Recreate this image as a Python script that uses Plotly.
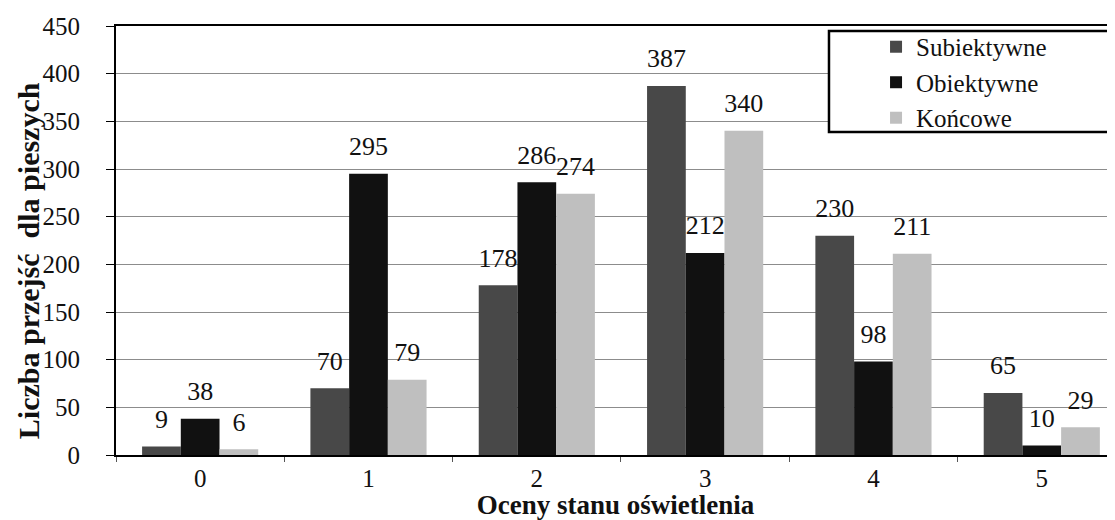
import plotly.graph_objects as go

categories = ["0", "1", "2", "3", "4", "5"]
subiektywne = [9, 70, 178, 387, 230, 65]
obiektywne = [38, 295, 286, 212, 98, 10]
koncowe = [6, 79, 274, 340, 211, 29]

series = [
    ("Subiektywne", subiektywne, "#484848"),
    ("Obiektywne", obiektywne, "#111111"),
    ("Końcowe", koncowe, "#bfbfbf"),
]

font_family = "'Liberation Serif', Tinos, 'Times New Roman', Times, 'DejaVu Serif'"
GAP = 0.31

fig = go.Figure()
for name, vals, color in series:
    fig.add_trace(go.Bar(
        x=categories, y=vals, name=name, offsetgroup=name,
        marker=dict(color=color, line=dict(width=0)),
        cliponaxis=False,
    ))
for name, vals, color in series:
    fig.add_trace(go.Scatter(
        x=categories, y=vals, name=name, offsetgroup=name,
        mode="markers+text", showlegend=False, hoverinfo="skip",
        marker=dict(size=18, opacity=0),
        text=[str(v) for v in vals], textposition="top center",
        textfont=dict(family=font_family, size=26, color="#111111"),
        cliponaxis=False,
    ))

# legend frame drawn as a shape so the entries can sit to its right side
fig.add_shape(type="rect", xref="paper", yref="paper",
              x0=0.7137, x1=0.997, y0=0.7529, y1=0.9883,
              line=dict(color="black", width=2.5), fillcolor="white", layer="above")

# y-axis title placed as an annotation (it sits slightly below the plot centre)
fig.add_annotation(
    text="<b>Liczba przejść  dla pieszych</b>", textangle=-90,
    xref="paper", yref="paper", x=-0.088, y=0.452,
    xanchor="center", yanchor="middle", showarrow=False,
    font=dict(family=font_family, size=30, color="#111111"),
)

fig.update_layout(
    width=1107, height=512,
    margin=dict(l=108, r=0, t=18, b=65, autoexpand=False),
    paper_bgcolor="white", plot_bgcolor="white",
    barmode="group", bargap=GAP, bargroupgap=0,
    scattermode="group", scattergap=GAP,
    font=dict(family=font_family, size=25, color="#111111"),
    legend=dict(
        x=0.7608, y=1.0047, xanchor="left", yanchor="top",
        borderwidth=0, bgcolor="rgba(0,0,0,0)",
        font=dict(family=font_family, size=25, color="#111111"),
        itemwidth=30, tracegroupgap=0,
    ),
    xaxis=dict(
        type="category", automargin=False, range=[-0.5, 5.435],
        showline=True, linecolor="black", linewidth=2, mirror=True,
        ticks="outside", tickson="boundaries", ticklen=5, tickcolor="#555555",
        tickfont=dict(size=25), ticklabelstandoff=0,
        title=dict(text="<b>Oceny stanu oświetlenia</b>", font=dict(size=27), standoff=4),
        showgrid=False,
    ),
    yaxis=dict(
        range=[0, 450], dtick=50, automargin=False,
        showline=True, linecolor="black", linewidth=2,
        ticks="outside", ticklen=8, tickcolor="black",
        tickfont=dict(size=25), ticklabelstandoff=21,
        showgrid=True, gridcolor="#8c8c8c", gridwidth=1,
        zeroline=False,
    ),
)

fig.write_html("out.html")
